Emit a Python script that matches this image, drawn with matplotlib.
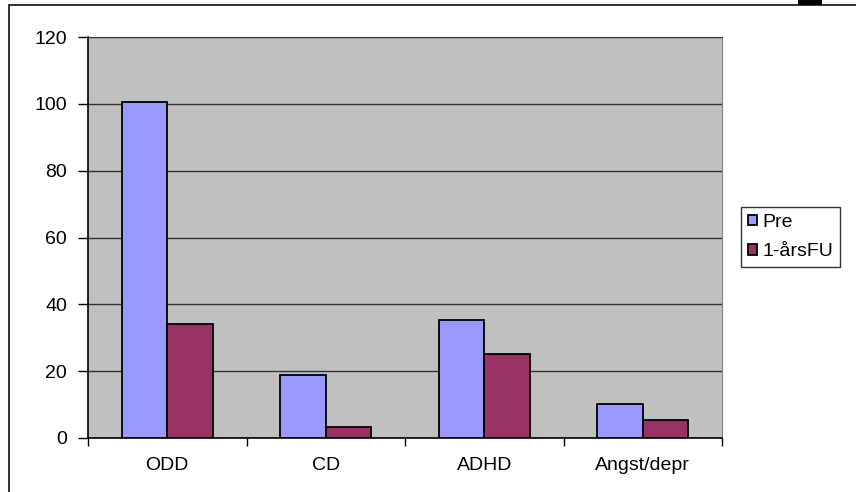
import numpy as np
import matplotlib.pyplot as plt
from matplotlib.patches import Rectangle

plt.rcParams['font.family'] = ['Liberation Sans', 'DejaVu Sans']

categories = ["ODD", "CD", "ADHD", "Angst/depr"]
pre = [100.5, 19, 35.3, 10.3]
fu = [34, 3.3, 25, 5.5]
series_names = ["Pre", "1-årsFU"]
yticks = [0, 20, 40, 60, 80, 100, 120]

W, H = 856, 492
fs = 14
fig = plt.figure(figsize=(W / 100, H / 100), dpi=100)
ax = fig.add_axes([88 / W, 1 - 438 / H, (722 - 88) / W, (438 - 37) / H])
ax.set_facecolor("#C0C0C0")

x = np.arange(len(categories))
bw = 0.2857
ax.bar(x - bw / 2, pre, bw, color="#9999FF", edgecolor="black", linewidth=1.3,
       label=series_names[0], zorder=3)
ax.bar(x + bw / 2, fu, bw, color="#993366", edgecolor="black", linewidth=1.3,
       label=series_names[1], zorder=3)

ax.set_xlim(-0.5, len(categories) - 0.5)
ax.set_ylim(0, 120)
ax.set_yticks(yticks)
ax.yaxis.grid(True, color="#333333", linewidth=1, zorder=1)
ax.set_axisbelow(True)

# boundary ticks without labels, labels at centres
ax.set_xticks(np.arange(len(categories) + 1) - 0.5)
ax.set_xticklabels([])
ax.set_xticks(x, minor=True)
ax.set_xticklabels(categories, minor=True)
ax.tick_params(axis="x", which="major", length=6, width=1, direction="out")
ax.tick_params(axis="x", which="minor", length=0, pad=14, labelsize=fs)
ax.tick_params(axis="y", length=7, width=1, direction="out", pad=8, labelsize=fs)

ax.spines["left"].set_color("black")
ax.spines["bottom"].set_color("black")
ax.spines["left"].set_linewidth(1.2)
ax.spines["bottom"].set_linewidth(1.2)
ax.spines["right"].set_color("#808080")
ax.spines["top"].set_color("#333333")

leg = fig.legend(loc="upper left", bbox_to_anchor=(741 / W, 1 - 207 / H),
                 frameon=True, fancybox=False, edgecolor="black",
                 fontsize=fs, handlelength=0.45, handleheight=0.45,
                 handletextpad=0.3, borderpad=0.35, labelspacing=0.65,
                 borderaxespad=0)
leg.get_frame().set_linewidth(1)

# outer chart frame (clipped at right and bottom) and corner block
fig.patches.append(Rectangle((9 / W, -0.2), 1.2, 1.2 - 5 / H, transform=fig.transFigure,
                             fill=False, edgecolor="#222222", linewidth=1.3, figure=fig))
fig.patches.append(Rectangle((798 / W, 1 - 5 / H), 24 / W, 5 / H, transform=fig.transFigure,
                             facecolor="black", edgecolor="none", figure=fig))

fig.savefig("out.png", dpi=100)
